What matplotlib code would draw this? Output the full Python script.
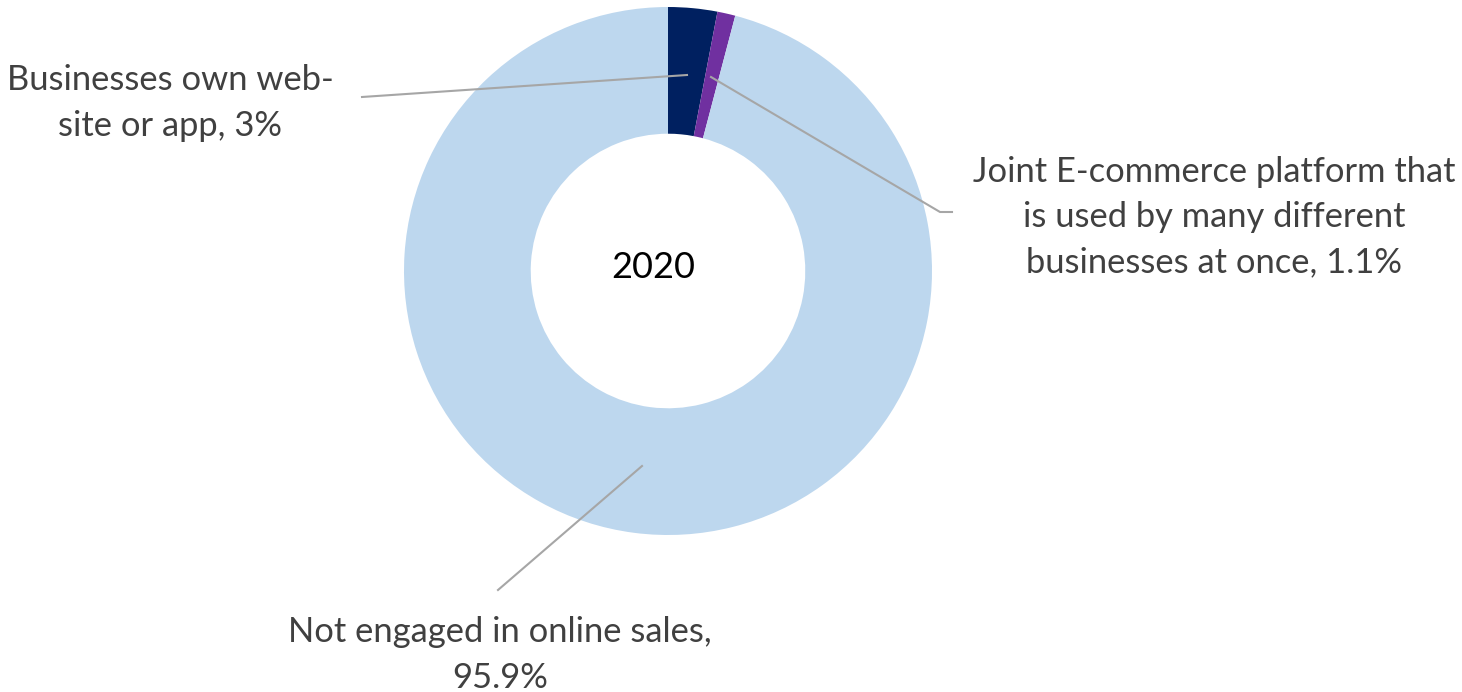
import matplotlib.pyplot as plt

# data
labels = ["Businesses own web-\nsite or app, 3%",
          "Joint E-commerce platform that\nis used by many different\nbusinesses at once, 1.1%",
          "Not engaged in online sales,\n95.9%"]
values = [3.0, 1.1, 95.9]
colors = ["#002060", "#7030A0", "#BDD7EE"]
year = "2020"

W, H = 1462, 692
fig = plt.figure(figsize=(W / 100, H / 100), dpi=100)
ax = fig.add_axes([0, 0, 1, 1])

cx, cy, R = 668, H - 271, 264
ax.pie(values, colors=colors, startangle=90, counterclock=False,
       center=(cx, cy), radius=R,
       wedgeprops=dict(width=R * 0.48, edgecolor="none"))
ax.set_xlim(0, W)
ax.set_ylim(0, H)
ax.set_aspect("equal")
ax.axis("off")

txt = dict(fontsize=24.8, color="#404040", family="Lato", linespacing=1.5)
lc = "#A6A6A6"

ax.text(653, cy + 3, year, fontsize=26, color="black", family="Lato",
        ha="center", va="center")

# label 1
ax.text(170, H - 103, labels[0], ha="center", va="center", **txt)
ax.plot([362, 687], [H - 97, H - 75], color=lc, lw=1.5)

# label 2
ax.text(1214, H - 217, labels[1], ha="center", va="center", **txt)
ax.plot([711, 940, 952], [H - 77, H - 212, H - 212], color=lc, lw=1.5)

# label 3
ax.text(500, H - 655, labels[2], ha="center", va="center", **txt)
ax.plot([498, 642], [H - 590, H - 466], color=lc, lw=1.5)

fig.savefig("out.png", dpi=100)
